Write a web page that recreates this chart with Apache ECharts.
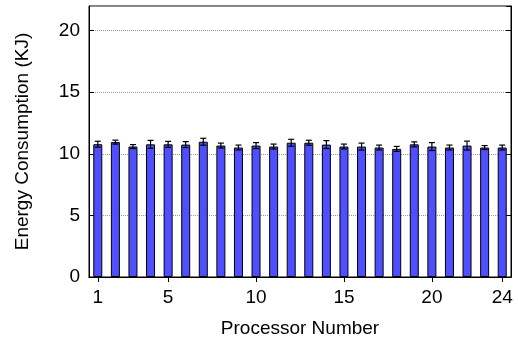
<!DOCTYPE html>
<html>
<head>
<meta charset="utf-8">
<script src="https://cdn.jsdelivr.net/npm/echarts@6/dist/echarts.min.js"></script>
<style>
  html, body { margin: 0; padding: 0; background: #fff; }
  #chart { width: 518px; height: 343px; }
</style>
</head>
<body>
<div id="chart"></div>
<script>
// Processor ids along the x axis
const processors = ['1','2','3','4','5','6','7','8','9','10','11','12',
                    '13','14','15','16','17','18','19','20','21','22','23','24'];
// Mean energy per processor (KJ)
const energy = [10.78, 10.95, 10.59, 10.77, 10.77, 10.75, 10.98, 10.67, 10.51, 10.67, 10.59, 10.90,
                10.90, 10.75, 10.59, 10.59, 10.51, 10.40, 10.77, 10.59, 10.51, 10.67, 10.51, 10.51];
// Half-length of each error bar (KJ)
const energyErr = [0.24, 0.16, 0.16, 0.32, 0.24, 0.24, 0.28, 0.20, 0.20, 0.24, 0.20, 0.28,
                   0.20, 0.32, 0.20, 0.28, 0.20, 0.20, 0.20, 0.32, 0.20, 0.36, 0.16, 0.20];
// Processor numbers that carry a tick label
const labelledProcessors = ['1', '5', '10', '15', '20', '24'];
// y axis range and step
const yMin = 0, yMax = 22, yStep = 5;

const FONT = '"Liberation Sans", Arial, Helvetica, sans-serif';
const isLabelled = (idx, val) => labelledProcessors.includes(processors[idx]);

const chart = echarts.init(document.getElementById('chart'), null, { renderer: 'canvas' });

const errData = processors.map((p, i) => [i, energy[i], energyErr[i]]);

chart.setOption({
  animation: false,
  backgroundColor: '#fff',
  grid: {
    left: 89, right: 7, top: 6, bottom: 65,
    show: true, borderColor: '#000', borderWidth: 1, backgroundColor: 'transparent'
  },
  xAxis: [
    {
      type: 'category',
      data: processors,
      position: 'bottom',
      boundaryGap: true,
      name: 'Processor Number',
      nameLocation: 'middle',
      nameGap: 42,
      nameTextStyle: { fontFamily: FONT, fontSize: 19, color: '#000' },
      axisLine: { show: true, lineStyle: { color: '#000', width: 1 } },
      axisTick: { show: true, inside: true, alignWithLabel: true, length: 5, interval: isLabelled,
                  lineStyle: { color: '#000' } },
      axisLabel: { show: true, interval: isLabelled, margin: 11,
                   fontFamily: FONT, fontSize: 19, color: '#000' },
      splitLine: { show: false }
    },
    {
      type: 'category',
      data: processors,
      position: 'top',
      boundaryGap: true,
      axisLine: { show: true, lineStyle: { color: '#000', width: 1 } },
      axisTick: { show: true, inside: true, alignWithLabel: true, length: 5, interval: isLabelled,
                  lineStyle: { color: '#000' } },
      axisLabel: { show: false },
      splitLine: { show: false }
    }
  ],
  yAxis: [
    {
      type: 'value',
      min: yMin, max: yMax, interval: yStep,
      position: 'left',
      name: 'Energy Consumption (KJ)',
      nameLocation: 'middle',
      nameGap: 57,
      nameTextStyle: { fontFamily: FONT, fontSize: 19, color: '#000' },
      axisLine: { show: true, lineStyle: { color: '#000', width: 1 } },
      axisTick: { show: true, inside: true, length: 5, lineStyle: { color: '#000' } },
      axisLabel: { show: true, margin: 9, fontFamily: FONT, fontSize: 19, color: '#000',
                   showMaxLabel: false,
                   formatter: v => (v % yStep === 0 ? String(v) : '') },
      splitLine: { show: true, lineStyle: { color: '#9a9a9a', width: 1, type: [1, 1] } }
    },
    {
      type: 'value',
      min: yMin, max: yMax, interval: yStep,
      position: 'right',
      axisLine: { show: true, lineStyle: { color: '#000', width: 1 } },
      axisTick: { show: true, inside: true, length: 5, lineStyle: { color: '#000' } },
      axisLabel: { show: false },
      splitLine: { show: false }
    }
  ],
  series: [
    {
      type: 'bar',
      xAxisIndex: 0, yAxisIndex: 0,
      data: energy,
      barWidth: 9,
      itemStyle: { color: '#4f4fff', borderColor: '#000', borderWidth: 1 },
      z: 2
    },
    {
      type: 'custom',
      xAxisIndex: 0, yAxisIndex: 0,
      data: errData,
      encode: { x: 0, y: 1 },
      z: 3,
      renderItem: function (params, api) {
        const idx = api.value(0), v = api.value(1), e = api.value(2);
        const hi = api.coord([idx, v + e]);
        const lo = api.coord([idx, v - e]);
        const cap = 3;
        const st = { stroke: '#000', lineWidth: 1.2 };
        return {
          type: 'group',
          children: [
            { type: 'line', shape: { x1: hi[0], y1: hi[1], x2: lo[0], y2: lo[1] }, style: st },
            { type: 'line', shape: { x1: hi[0] - cap, y1: hi[1], x2: hi[0] + cap, y2: hi[1] }, style: st },
            { type: 'line', shape: { x1: lo[0] - cap, y1: lo[1], x2: lo[0] + cap, y2: lo[1] }, style: st }
          ]
        };
      }
    }
  ]
});
</script>
</body>
</html>
